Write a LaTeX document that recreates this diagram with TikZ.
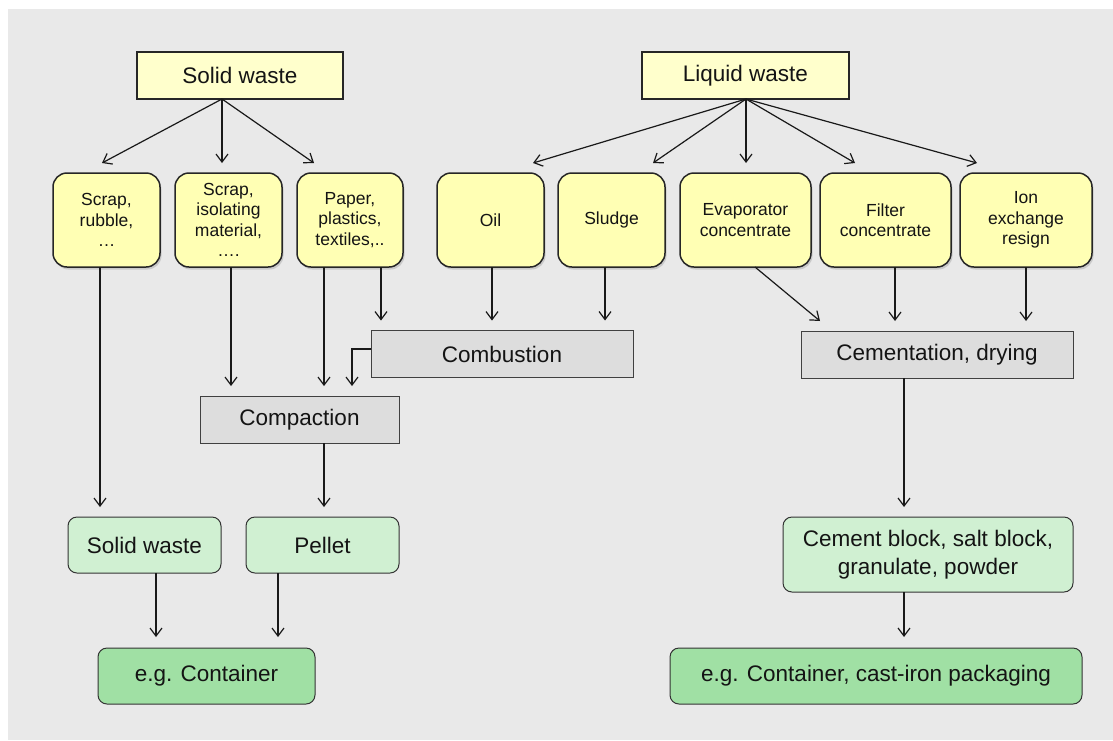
\documentclass[tikz,border=0pt]{standalone}
\usepackage{fontspec}
\setmainfont{Liberation Sans}
\usetikzlibrary{arrows.meta,shadows}
\definecolor{bgc}{RGB}{233,233,233}
\definecolor{ytop}{RGB}{255,255,204}
\definecolor{yrnd}{RGB}{255,255,180}
\definecolor{gbox}{RGB}{221,221,221}
\definecolor{lgreen}{RGB}{208,240,210}
\definecolor{dgreen}{RGB}{160,224,164}
\newcommand{\bigf}{\fontsize{22.5}{27.5}\selectfont}
\newcommand{\smallf}{\fontsize{17.5}{20.5}\selectfont}
\tikzset{
  base/.style={inner sep=0pt, outer sep=0pt, align=center, text=black!92},
  topbox/.style={base, draw=black!85, line width=1.1pt, fill=ytop, minimum height=47pt, font=\bigf},
  rndbox/.style={base, draw=black!85, line width=1.5pt, fill=yrnd, rounded corners=14pt, minimum height=94pt, font=\smallf,
     drop shadow={opacity=0.3, shadow xshift=1.5pt, shadow yshift=-2.5pt}},
  procbox/.style={base, draw=black!75, line width=1pt, fill=gbox, minimum height=47pt, font=\bigf},
  resbox/.style={base, draw=black!80, line width=1pt, fill=lgreen, rounded corners=9pt, font=\bigf},
  finbox/.style={base, draw=black!80, line width=1pt, fill=dgreen, rounded corners=9pt, minimum height=56pt, font=\bigf},
  conn/.style={line width=1.2pt, draw=black!90, -{Straight Barb[length=8pt,width=12pt,line width=1.2pt]}},
  line/.style={line width=1.2pt, draw=black!90}
}
\begin{document}
\begin{tikzpicture}[x=1pt,y=-1pt]
\useasboundingbox[fill=white] (0,0) rectangle (1113,740);
\fill[bgc] (8,9) rectangle (1113,740);

% top sources
\node[topbox, minimum width=206pt] (sw) at (240,75.5) {Solid waste};
\node[topbox, minimum width=207pt] (lw) at (745.5,75.5) {Liquid waste};

% second row
\node[rndbox, minimum width=107pt] (s1) at (106.5,220) {Scrap,\\rubble,\\…};
\node[rndbox, minimum width=107pt] (s2) at (228.5,220) {Scrap,\\isolating\\material,\\….};
\node[rndbox, minimum width=106pt] (s3) at (350,220) {Paper,\\plastics,\\textiles,..};
\node[rndbox, minimum width=107pt] (l1) at (490.5,220) {Oil};
\node[rndbox, minimum width=107pt] (l2) at (611.5,220) {Sludge};
\node[rndbox, minimum width=131pt] (l3) at (745.5,220) {Evaporator\\concentrate};
\node[rndbox, minimum width=131pt] (l4) at (885.5,220) {Filter\\concentrate};
\node[rndbox, minimum width=132pt] (l5) at (1026,220) {Ion\\exchange\\resign};

% process boxes
\node[procbox, minimum width=262pt] (comb) at (502,354) {Combustion};
\node[procbox, minimum width=199pt] (comp) at (299.5,419.5) {Compaction};
\node[procbox, minimum width=272pt] (cem) at (937,354.5) {Cementation, drying};

% results
\node[resbox, minimum width=153pt, minimum height=56pt] (g1) at (144.5,545) {Solid waste};
\node[resbox, minimum width=153pt, minimum height=56pt] (g2) at (322.5,545) {Pellet};
\node[resbox, minimum width=290pt, minimum height=75pt] (g3) at (928,554.5) {Cement block, salt block,\\granulate, powder};

% final
\node[finbox, minimum width=217pt] (c1) at (206.5,676) {e.g. Container};
\node[finbox, minimum width=412pt] (c2) at (876,676) {e.g. Container, cast-iron packaging};

% solid waste fan-out
\draw[conn] ([xshift=-18pt]sw.south) -- ([xshift=-4.5pt,yshift=10pt]s1.north);
\draw[conn] ([xshift=-18pt]sw.south) -- ([xshift=-6.5pt,yshift=10pt]s2.north);
\draw[conn] ([xshift=-18pt]sw.south) -- ([xshift=-36pt,yshift=10pt]s3.north);

% liquid waste fan-out
\draw[conn] ([xshift=0.5pt]lw.south) -- ([xshift=42.5pt,yshift=10pt]l1.north);
\draw[conn] ([xshift=0.5pt]lw.south) -- ([xshift=41.5pt,yshift=10pt]l2.north);
\draw[conn] ([xshift=0.5pt]lw.south) -- ([xshift=0.5pt,yshift=10pt]l3.north);
\draw[conn] ([xshift=0.5pt]lw.south) -- ([xshift=-30.5pt,yshift=10pt]l4.north);
\draw[conn] ([xshift=0.5pt]lw.south) -- ([xshift=-49pt,yshift=10pt]l5.north);

% solid side downwards
\draw[conn] ([xshift=-6.5pt]s1.south) -- ([xshift=-44.5pt,yshift=10pt]g1.north);
\draw[conn] ([xshift=2.5pt]s2.south) -- ([xshift=-68.5pt,yshift=10pt]comp.north);
\draw[conn] ([xshift=-26pt]s3.south) -- ([xshift=24.5pt,yshift=10pt]comp.north);
\draw[conn] ([xshift=31pt]s3.south) -- ([xshift=-121pt,yshift=10pt]comb.north);
\draw[conn] ([xshift=1.5pt]l1.south) -- ([xshift=-10pt,yshift=10pt]comb.north);
\draw[conn] ([xshift=-6.5pt]l2.south) -- ([xshift=103pt,yshift=10pt]comb.north);
\draw[conn] ([yshift=5pt]comb.west) -| ([xshift=52.5pt,yshift=10pt]comp.north);
\draw[conn] ([xshift=24.5pt]comp.south) -- ([xshift=1.5pt,yshift=10pt]g2.north);

% liquid side downwards
\draw[conn] ([xshift=9.5pt]l3.south) -- ([xshift=-117pt,yshift=10pt]cem.north);
\draw[conn] ([xshift=9.5pt]l4.south) -- ([xshift=-42pt,yshift=10pt]cem.north);
\draw[conn] (l5.south) -- ([xshift=89pt,yshift=10pt]cem.north);
\draw[conn] ([xshift=-33pt]cem.south) -- ([xshift=-24pt,yshift=10pt]g3.north);

% to containers
\draw[conn] ([xshift=11.5pt]g1.south) -- ([xshift=-50.5pt,yshift=11pt]c1.north);
\draw[conn] ([xshift=-44.5pt]g2.south) -- ([xshift=71.5pt,yshift=11pt]c1.north);
\draw[conn] ([xshift=-24pt]g3.south) -- ([xshift=28pt,yshift=11pt]c2.north);
\end{tikzpicture}
\end{document}
